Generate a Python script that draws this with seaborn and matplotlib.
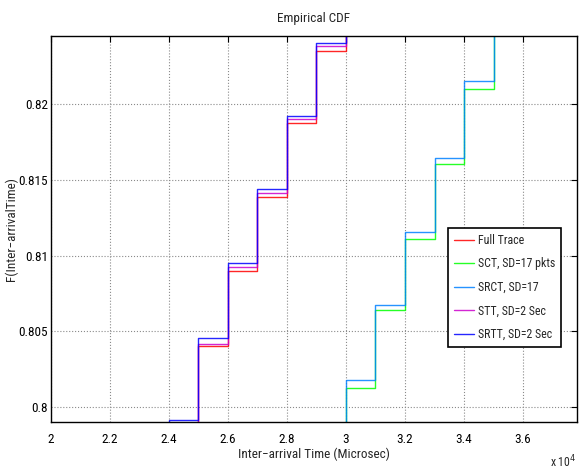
import matplotlib
matplotlib.use("Agg")
import matplotlib.pyplot as plt
from matplotlib.ticker import FuncFormatter
import seaborn as sns
import pandas as pd

# step CDF values (x in microsec, y = F)
full_x = [24000, 25000, 26000, 27000, 28000, 29000, 30000, 31000]
full_y = [0.7985, 0.80401, 0.80899, 0.81388, 0.81877, 0.82354, 0.8285, 0.8285]

sct_x = [29000, 30000, 31000, 32000, 33000, 34000, 35000, 36000]
sct_y = [0.7960, 0.80124, 0.80639, 0.81111, 0.81605, 0.82104, 0.8262, 0.8262]

srct_x = [29000, 30000, 31000, 32000, 33000, 34000, 35000, 36000]
srct_y = [0.7965, 0.80181, 0.80676, 0.81159, 0.81647, 0.82156, 0.8268, 0.8268]

stt_x = [24000, 25000, 26000, 27000, 28000, 29000, 30000, 31000]
stt_y = [0.7987, 0.80419, 0.80928, 0.81412, 0.81901, 0.82385, 0.8288, 0.8288]

srtt_x = [23000, 24000, 25000, 26000, 27000, 28000, 29000, 30000, 31000]
srtt_y = [0.7935, 0.79914, 0.80456, 0.80950, 0.81440, 0.81921, 0.82405, 0.8290, 0.8290]

labels = ["Full Trace", "SCT, SD=17 pkts", "SRCT, SD=17", "STT, SD=2 Sec", "SRTT, SD=2 Sec"]
colors = ["#ff0000", "#00ff00", "#0080ff", "#cc00cc", "#0000ff"]

xticks = [20000, 22000, 24000, 26000, 28000, 30000, 32000, 34000, 36000]
yticks = [0.80, 0.805, 0.81, 0.815, 0.82]


def main():
    series = [(full_x, full_y), (sct_x, sct_y), (srct_x, srct_y), (stt_x, stt_y), (srtt_x, srtt_y)]
    rows = []
    for lab, (xs, ys) in zip(labels, series):
        for x, y in zip(xs, ys):
            rows.append({"x": x, "y": y, "series": lab})
    df = pd.DataFrame(rows)

    sns.set_theme(style="white")
    plt.rcParams["font.family"] = ["Liberation Sans Narrow", "Roboto Condensed",
                                   "Liberation Sans", "DejaVu Sans"]

    fig = plt.figure(figsize=(5.82, 4.70), dpi=100)
    ax = fig.add_axes([0.0876, 0.102, 0.9038, 0.821])

    sns.lineplot(data=df, x="x", y="y", hue="series", hue_order=labels,
                 palette=dict(zip(labels, colors)), drawstyle="steps-post",
                 linewidth=1.0, alpha=0.85, ax=ax, legend=True, sort=True)

    ax.set_xlim(20000, 37830)
    ax.set_ylim(0.7990, 0.8245)
    ax.set_xticks(xticks)
    ax.set_yticks(yticks)
    ax.xaxis.set_major_formatter(FuncFormatter(lambda v, p: f"{v / 1e4:g}"))
    ax.yaxis.set_major_formatter(FuncFormatter(lambda v, p: f"{v:g}"))

    ax.grid(True, linestyle=":", color="#8a8a8a", linewidth=0.8)
    ax.tick_params(direction="in", top=True, right=True, length=4, width=0.8,
                   labelsize=9.5, colors="black")
    ax.tick_params(axis="x", pad=8)
    ax.tick_params(axis="y", pad=2)
    for sp in ax.spines.values():
        sp.set_color("black")
        sp.set_linewidth(1.0)

    ax.set_title("Empirical CDF", fontsize=9.5, pad=10)
    ax.set_xlabel("Inter\u2212arrival Time (Microsec)", fontsize=9.5, labelpad=1)
    ax.set_ylabel("F(Inter\u2212arrivalTime)", fontsize=9.5)
    ax.yaxis.set_label_coords(-0.063, 0.5)
    fig.text(0.967, 0.006, "x 10$^4$", fontsize=8.5, ha="center")

    leg = ax.legend(loc="upper left", bbox_to_anchor=(0.755, 0.503), fontsize=8.6,
                    frameon=True, fancybox=False, edgecolor="black", framealpha=1,
                    handlelength=1.7, handletextpad=0.3, borderpad=0.5, labelspacing=0.88,
                    borderaxespad=0)
    leg.get_frame().set_linewidth(1.2)

    fig.savefig("out.png", dpi=100)


main()
